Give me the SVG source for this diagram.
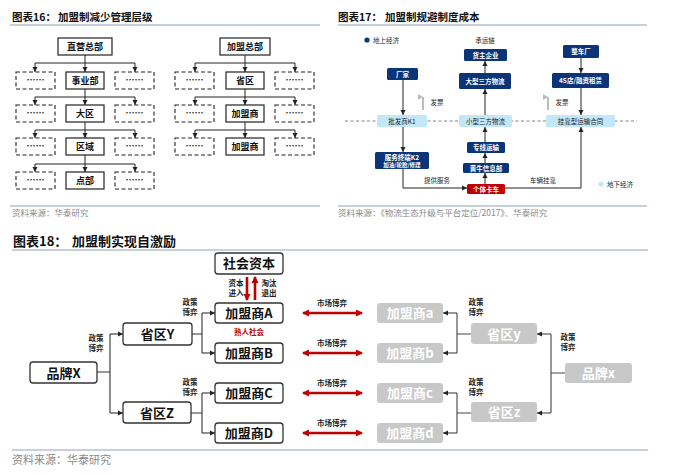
<svg xmlns="http://www.w3.org/2000/svg" width="676" height="475" viewBox="0 0 676 475">
<style>
text { font-family: "Noto Sans CJK SC", "Liberation Sans", sans-serif; }
.title { font-size: 10.5px; font-weight: bold; fill: #111; }
.title2 { font-size: 13px; font-weight: bold; fill: #111; }
.src { font-size: 8.5px; fill: #8a8a8a; }
.src2 { font-size: 11px; fill: #8a8a8a; }
.rule { stroke: #c7d0dc; stroke-width: 2; }
.tbox { fill: #fff; stroke: #222; stroke-width: 1.2; }
.dbox { fill: #fff; stroke: #222; stroke-width: 1.1; stroke-dasharray: 4 2.5; }
.tl { font-size: 9px; font-weight: bold; text-anchor: middle; fill: #111; }
.conn { fill: none; stroke: #222; stroke-width: 1; }
.navy { fill: #0b3578; }
.lb { fill: #c2e7f9; }
.red { fill: #c00000; }
.wt { font-size: 6.5px; fill: #fff; font-weight: bold; text-anchor: middle; }
.bt { font-size: 6.5px; fill: #222; text-anchor: middle; }
.lt { font-size: 6.5px; fill: #222; }
.node { fill: #fff; stroke: #333; stroke-width: 1.3; }
.gnode { fill: #c8c8c8; }
.nt { font-size: 13px; font-weight: bold; fill: #111; text-anchor: middle; }
.gt { font-size: 13px; font-weight: bold; fill: #fff; text-anchor: middle; }
.pl { font-size: 7.5px; font-weight: bold; fill: #222; text-anchor: middle; }
.bconn { fill: none; stroke: #333; stroke-width: 1.1; }
.gconn { fill: none; stroke: #444; stroke-width: 1.1; }
.redline { fill: none; stroke: #c00000; stroke-width: 2.6; }
</style>
<defs>
<marker id="ah" markerWidth="6" markerHeight="6" refX="5" refY="3" orient="auto" markerUnits="userSpaceOnUse">
<path d="M0,0.5 L5,3 L0,5.5 Z" fill="#222"/>
</marker>
<marker id="ahr" markerWidth="8" markerHeight="8" refX="6" refY="4" orient="auto" markerUnits="userSpaceOnUse">
<path d="M0,0.5 L7,4 L0,7.5 Z" fill="#c00000"/>
</marker>
<marker id="ahrs" markerWidth="8" markerHeight="8" refX="1" refY="4" orient="auto" markerUnits="userSpaceOnUse">
<path d="M7,0.5 L0,4 L7,7.5 Z" fill="#c00000"/>
</marker>
<marker id="ahg" markerWidth="6" markerHeight="6" refX="3" refY="5" orient="auto-start-reverse" markerUnits="userSpaceOnUse">
<path d="M0,0 L3,5 L6,0 Z" fill="#bbb"/>
</marker>
</defs>

<!-- ============ Figure 16 ============ -->
<g id="fig16-header">
<text x="12" y="21" class="title">图表16：</text>
<text x="58" y="21" class="title">加盟制减少管理层级</text>
<line x1="10" y1="25" x2="320" y2="25" class="rule"/>
</g>

<g id="fig16-connectors">
<!-- left tree -->
<path class="conn" d="M85,55 V63 M35,63 H135" />
<path class="conn" d="M85,63 V72" marker-end="url(#ah)"/>
<path class="conn" d="M35,63 V72" marker-end="url(#ah)"/>
<path class="conn" d="M135,63 V72" marker-end="url(#ah)"/>
<path class="conn" d="M85,89 V97 M35,97 H135" />
<path class="conn" d="M85,97 V105" marker-end="url(#ah)"/>
<path class="conn" d="M35,97 V105" marker-end="url(#ah)"/>
<path class="conn" d="M135,97 V105" marker-end="url(#ah)"/>
<path class="conn" d="M85,122 V130 M35,130 H135" />
<path class="conn" d="M85,130 V138" marker-end="url(#ah)"/>
<path class="conn" d="M35,130 V138" marker-end="url(#ah)"/>
<path class="conn" d="M135,130 V138" marker-end="url(#ah)"/>
<path class="conn" d="M85,155 V164 M35,164 H135" />
<path class="conn" d="M85,164 V172" marker-end="url(#ah)"/>
<path class="conn" d="M35,164 V172" marker-end="url(#ah)"/>
<path class="conn" d="M135,164 V172" marker-end="url(#ah)"/>
<!-- right tree -->
<path class="conn" d="M245,55 V63 M195,63 H295" />
<path class="conn" d="M245,63 V72" marker-end="url(#ah)"/>
<path class="conn" d="M195,63 V72" marker-end="url(#ah)"/>
<path class="conn" d="M295,63 V72" marker-end="url(#ah)"/>
<path class="conn" d="M245,89 V97 M195,97 H295" />
<path class="conn" d="M245,97 V105" marker-end="url(#ah)"/>
<path class="conn" d="M195,97 V105" marker-end="url(#ah)"/>
<path class="conn" d="M295,97 V105" marker-end="url(#ah)"/>
<path class="conn" d="M245,122 V130 M195,130 H295" />
<path class="conn" d="M245,130 V138" marker-end="url(#ah)"/>
<path class="conn" d="M195,130 V138" marker-end="url(#ah)"/>
<path class="conn" d="M295,130 V138" marker-end="url(#ah)"/>
</g>

<g id="n-zhiying"><rect x="58" y="38" width="54" height="17" class="tbox"/><text x="85" y="50" class="tl">直营总部</text></g>
<g id="n-shiyebu"><rect x="66" y="72" width="38" height="17" class="tbox"/><text x="85" y="84" class="tl">事业部</text></g>
<g id="n-daqu"><rect x="66" y="105" width="38" height="17" class="tbox"/><text x="85" y="117" class="tl">大区</text></g>
<g id="n-quyu"><rect x="66" y="138" width="38" height="17" class="tbox"/><text x="85" y="150" class="tl">区域</text></g>
<g id="n-dianbu"><rect x="66" y="172" width="38" height="17" class="tbox"/><text x="85" y="184" class="tl">点部</text></g>
<g id="n-l-d1"><rect x="16" y="72" width="39" height="17" class="dbox"/><text x="35.5" y="83" class="tl">……</text></g>
<g id="n-l-d2"><rect x="115" y="72" width="39" height="17" class="dbox"/><text x="134.5" y="83" class="tl">……</text></g>
<g id="n-l-d3"><rect x="16" y="105" width="39" height="17" class="dbox"/><text x="35.5" y="116" class="tl">……</text></g>
<g id="n-l-d4"><rect x="115" y="105" width="39" height="17" class="dbox"/><text x="134.5" y="116" class="tl">……</text></g>
<g id="n-l-d5"><rect x="16" y="138" width="39" height="17" class="dbox"/><text x="35.5" y="149" class="tl">……</text></g>
<g id="n-l-d6"><rect x="115" y="138" width="39" height="17" class="dbox"/><text x="134.5" y="149" class="tl">……</text></g>
<g id="n-l-d7"><rect x="16" y="172" width="39" height="17" class="dbox"/><text x="35.5" y="183" class="tl">……</text></g>
<g id="n-l-d8"><rect x="115" y="172" width="39" height="17" class="dbox"/><text x="134.5" y="183" class="tl">……</text></g>

<g id="n-jiameng"><rect x="220" y="38" width="50" height="17" class="tbox"/><text x="245" y="50" class="tl">加盟总部</text></g>
<g id="n-shengqu"><rect x="226" y="72" width="38" height="17" class="tbox"/><text x="245" y="84" class="tl">省区</text></g>
<g id="n-jms1"><rect x="226" y="105" width="38" height="17" class="tbox"/><text x="245" y="117" class="tl">加盟商</text></g>
<g id="n-jms2"><rect x="226" y="138" width="38" height="17" class="tbox"/><text x="245" y="150" class="tl">加盟商</text></g>
<g id="n-r-d1"><rect x="175" y="72" width="39" height="17" class="dbox"/><text x="194.5" y="83" class="tl">……</text></g>
<g id="n-r-d2"><rect x="275" y="72" width="39" height="17" class="dbox"/><text x="294.5" y="83" class="tl">……</text></g>
<g id="n-r-d3"><rect x="175" y="105" width="39" height="17" class="dbox"/><text x="194.5" y="116" class="tl">……</text></g>
<g id="n-r-d4"><rect x="275" y="105" width="39" height="17" class="dbox"/><text x="294.5" y="116" class="tl">……</text></g>
<g id="n-r-d5"><rect x="175" y="138" width="39" height="17" class="dbox"/><text x="194.5" y="149" class="tl">……</text></g>
<g id="n-r-d6"><rect x="275" y="138" width="39" height="17" class="dbox"/><text x="294.5" y="149" class="tl">……</text></g>

<g id="fig16-footer">
<line x1="10" y1="206" x2="320" y2="206" class="rule"/>
<text x="12" y="216" class="src">资料来源：华泰研究</text>
</g>

<!-- ============ Figure 17 ============ -->
<g id="fig17-header">
<text x="338" y="21" class="title">图表17：</text>
<text x="385" y="21" class="title">加盟制规避制度成本</text>
<line x1="338" y1="25" x2="647" y2="25" class="rule"/>
</g>

<g id="fig17-legend">
<circle cx="367" cy="40" r="2.6" class="navy"/>
<text x="373" y="42.5" class="lt">地上经济</text>
<circle cx="601" cy="184" r="2.6" class="lb"/>
<text x="607" y="186.5" class="lt">地下经济</text>
<text x="485" y="42.5" class="bt">承运链</text>
<line x1="345" y1="121" x2="637" y2="121" stroke="#666" stroke-width="0.8" stroke-dasharray="3 2.5"/>
</g>

<g id="fig17-connectors">
<path class="conn" d="M403,80 V115" marker-end="url(#ah)"/>
<path class="conn" d="M403,127 V152" marker-end="url(#ah)"/>
<path class="conn" d="M403,169 V188 H467" marker-end="url(#ah)"/>
<path class="conn" d="M505,188 H581 V127" marker-end="url(#ah)"/>
<path class="conn" d="M485,73 V61" marker-end="url(#ah)"/>
<path class="conn" d="M485,115 V89" marker-end="url(#ah)"/>
<path class="conn" d="M485,142 V127" marker-end="url(#ah)"/>
<path class="conn" d="M485,163 V153" marker-end="url(#ah)"/>
<path class="conn" d="M485,184 V173" marker-end="url(#ah)"/>
<path class="conn" d="M581,58 V73" marker-end="url(#ah)"/>
<path class="conn" d="M581,88 V115" marker-end="url(#ah)"/>
<line x1="423" y1="110" x2="423" y2="97" stroke="#bbb" stroke-width="2" marker-end="url(#ahg)"/>
<line x1="548" y1="110" x2="548" y2="97" stroke="#bbb" stroke-width="2" marker-end="url(#ahg)"/>
<text x="437" y="105" class="bt">发票</text>
<text x="562" y="105" class="bt">发票</text>
<text x="437" y="183" class="bt">提供服务</text>
<text x="543" y="183" class="bt">车辆挂靠</text>
</g>

<g id="n-huozhu"><rect x="464" y="49" width="43" height="12" rx="1.5" class="navy"/><text x="485.5" y="57.5" class="wt">货主企业</text></g>
<g id="n-daxing"><rect x="459" y="73" width="52" height="16" rx="1.5" class="navy"/><text x="485" y="83.5" class="wt">大型三方物流</text></g>
<g id="n-changjia"><rect x="387" y="68" width="31" height="12" rx="1.5" class="navy"/><text x="402.5" y="76.5" class="wt">厂家</text></g>
<g id="n-zhengche"><rect x="563" y="45" width="36" height="13" rx="1.5" class="navy"/><text x="581" y="54" class="wt">整车厂</text></g>
<g id="n-4s"><rect x="552" y="73" width="57" height="15" rx="1.5" class="navy"/><text x="580.5" y="83" class="wt">4S店/融资租赁</text></g>
<g id="n-pifa"><rect x="377" y="115" width="50" height="12" rx="1.5" class="lb"/><text x="402" y="123.5" class="bt">批发商K1</text></g>
<g id="n-xiaoxing"><rect x="459" y="115" width="53" height="12" rx="1.5" class="lb"/><text x="485.5" y="123.5" class="bt">小型三方物流</text></g>
<g id="n-guakao"><rect x="546" y="115" width="69" height="12" rx="1.5" class="lb"/><text x="580.5" y="123.5" class="bt">挂靠型运输合同</text></g>
<g id="n-fuwu"><rect x="375" y="152" width="54" height="17" rx="1.5" class="navy"/><text x="402" y="159.5" class="wt">服务终端K2</text><text x="402" y="166.5" class="wt" style="font-size:5.5px">加油/轮胎/修理</text></g>
<g id="n-zhuanxian"><rect x="467" y="142" width="38" height="11" rx="1.5" class="navy"/><text x="486" y="150" class="wt">专线运输</text></g>
<g id="n-huangniu"><rect x="463" y="163" width="46" height="10" rx="1.5" class="navy"/><text x="486" y="170.5" class="wt">黄牛信息部</text></g>
<g id="n-geti"><rect x="467" y="184" width="38" height="10" rx="1.5" class="red"/><text x="486" y="191.5" class="wt">个体卡车</text></g>

<g id="fig17-footer">
<line x1="338" y1="206" x2="647" y2="206" class="rule"/>
<text x="338" y="216" class="src">资料来源：《物流生态升级与平台定位/2017》、华泰研究</text>
</g>

<!-- ============ Figure 18 ============ -->
<g id="fig18-header">
<text x="13" y="246" class="title2">图表18：</text>
<text x="72" y="246" class="title2">加盟制实现自激励</text>
<line x1="12" y1="250" x2="648" y2="250" class="rule"/>
</g>

<g id="fig18-connectors">
<!-- left side -->
<path class="bconn" d="M97,372 H110 M110,334 V413"/>
<path class="bconn" d="M110,334 H123" marker-end="url(#ah)"/>
<path class="bconn" d="M110,413 H123" marker-end="url(#ah)"/>
<path class="bconn" d="M192,334 H202 M202,313 V353"/>
<path class="bconn" d="M202,313 H215" marker-end="url(#ah)"/>
<path class="bconn" d="M202,353 H215" marker-end="url(#ah)"/>
<path class="bconn" d="M191,413 H202 M202,393 V433"/>
<path class="bconn" d="M202,393 H215" marker-end="url(#ah)"/>
<path class="bconn" d="M202,433 H215" marker-end="url(#ah)"/>
<!-- right side -->
<path class="gconn" d="M565,373 H551 M551,334 V413"/>
<path class="gconn" d="M551,334 H537" marker-end="url(#ah)"/>
<path class="gconn" d="M551,413 H537" marker-end="url(#ah)"/>
<path class="gconn" d="M471,334 H457 M457,313 V353"/>
<path class="gconn" d="M457,313 H443" marker-end="url(#ah)"/>
<path class="gconn" d="M457,353 H443" marker-end="url(#ah)"/>
<path class="gconn" d="M471,413 H457 M457,393 V433"/>
<path class="gconn" d="M457,393 H443" marker-end="url(#ah)"/>
<path class="gconn" d="M457,433 H443" marker-end="url(#ah)"/>
<!-- capital arrows -->
<line x1="247" y1="277" x2="247" y2="300" class="redline" marker-end="url(#ahr)"/>
<line x1="255" y1="300" x2="255" y2="277" class="redline" marker-end="url(#ahr)"/>
<!-- market game arrows -->
<line x1="303" y1="313" x2="362" y2="313" class="redline" marker-start="url(#ahrs)" marker-end="url(#ahr)"/>
<line x1="303" y1="353" x2="362" y2="353" class="redline" marker-start="url(#ahrs)" marker-end="url(#ahr)"/>
<line x1="303" y1="393" x2="362" y2="393" class="redline" marker-start="url(#ahrs)" marker-end="url(#ahr)"/>
<line x1="303" y1="433" x2="362" y2="433" class="redline" marker-start="url(#ahrs)" marker-end="url(#ahr)"/>
<!-- labels -->
<text x="332" y="306" class="pl">市场博弈</text>
<text x="332" y="346" class="pl">市场博弈</text>
<text x="332" y="386" class="pl">市场博弈</text>
<text x="332" y="426" class="pl">市场博弈</text>
<text x="236" y="286" class="pl">资本</text><text x="236" y="296" class="pl">进入</text>
<text x="269" y="286" class="pl">淘汰</text><text x="269" y="296" class="pl">退出</text>
<text x="96" y="341" class="pl">政策</text><text x="96" y="351" class="pl">博弈</text>
<text x="190" y="305" class="pl">政策</text><text x="190" y="315" class="pl">博弈</text>
<text x="190" y="385" class="pl">政策</text><text x="190" y="395" class="pl">博弈</text>
<text x="476" y="305" class="pl">政策</text><text x="476" y="315" class="pl">博弈</text>
<text x="476" y="385" class="pl">政策</text><text x="476" y="395" class="pl">博弈</text>
<text x="568" y="340" class="pl">政策</text><text x="568" y="350" class="pl">博弈</text>
<text x="249" y="335" class="pl" style="fill:#c00000">熟人社会</text>
</g>

<g id="n-shehui"><rect x="215" y="253" width="68" height="21" rx="3" class="node"/><text x="249" y="268" class="nt">社会资本</text></g>
<g id="n-A"><rect x="215" y="303" width="68" height="20" rx="3" class="node"/><text x="249" y="318" class="nt">加盟商A</text></g>
<g id="n-B"><rect x="215" y="343" width="68" height="20" rx="3" class="node"/><text x="249" y="358" class="nt">加盟商B</text></g>
<g id="n-C"><rect x="215" y="383" width="68" height="20" rx="3" class="node"/><text x="249" y="398" class="nt">加盟商C</text></g>
<g id="n-D"><rect x="215" y="423" width="68" height="20" rx="3" class="node"/><text x="249" y="438" class="nt">加盟商D</text></g>
<g id="n-Y"><rect x="123" y="323" width="69" height="22" rx="3" class="node"/><text x="157.5" y="339" class="nt">省区Y</text></g>
<g id="n-Z"><rect x="123" y="402" width="68" height="21" rx="3" class="node"/><text x="157" y="417.5" class="nt">省区Z</text></g>
<g id="n-X"><rect x="30" y="362" width="67" height="21" rx="3" class="node"/><text x="63.5" y="377.5" class="nt">品牌X</text></g>

<g id="n-a"><rect x="377" y="303" width="66" height="20" rx="3" class="gnode"/><text x="410" y="318" class="gt">加盟商a</text></g>
<g id="n-b"><rect x="377" y="343" width="66" height="20" rx="3" class="gnode"/><text x="410" y="358" class="gt">加盟商b</text></g>
<g id="n-c"><rect x="377" y="383" width="66" height="20" rx="3" class="gnode"/><text x="410" y="398" class="gt">加盟商c</text></g>
<g id="n-d"><rect x="377" y="423" width="66" height="20" rx="3" class="gnode"/><text x="410" y="438" class="gt">加盟商d</text></g>
<g id="n-y"><rect x="471" y="323" width="66" height="21" rx="3" class="gnode"/><text x="504" y="338.5" class="gt">省区y</text></g>
<g id="n-z"><rect x="471" y="402" width="66" height="20" rx="3" class="gnode"/><text x="504" y="417" class="gt">省区z</text></g>
<g id="n-x"><rect x="565" y="363" width="67" height="20" rx="3" class="gnode"/><text x="598.5" y="378" class="gt">品牌x</text></g>

<g id="fig18-footer">
<line x1="12" y1="450" x2="648" y2="450" class="rule"/>
<text x="12" y="464" class="src2">资料来源：华泰研究</text>
</g>
</svg>
